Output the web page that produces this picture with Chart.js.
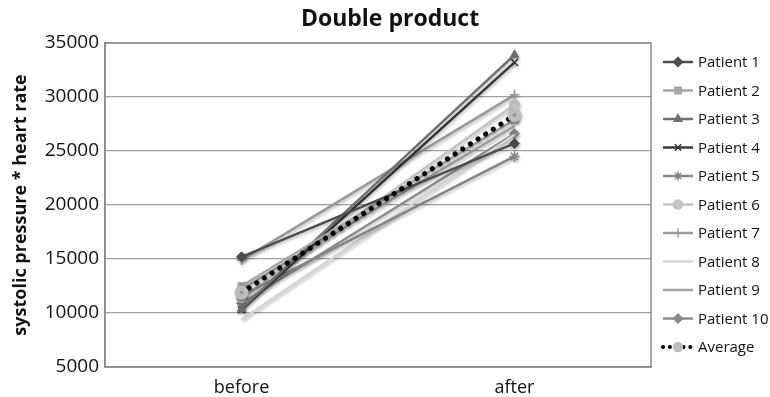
<!DOCTYPE html>
<html>
<head>
<meta charset="utf-8">
<script src="https://cdn.jsdelivr.net/npm/chart.js@4"></script>
<style>
  html, body { margin: 0; padding: 0; background: #fff; }
  #wrap { width: 770px; height: 397px; position: relative; }
</style>
</head>
<body>
<div id="wrap"><canvas id="chart" width="770" height="397"></canvas></div>
<script>
// ── Data ──
const categories = ['before', 'after'];
const patientNames = ['Patient 1', 'Patient 2', 'Patient 3', 'Patient 4', 'Patient 5',
    'Patient 6', 'Patient 7', 'Patient 8', 'Patient 9', 'Patient 10'];
const beforeValues = [15200, 12500, 10400, 10300, 11600, 11400, 14900, 9400, 12200, 10900];
const afterValues  = [25700, 27900, 33900, 33200, 24500, 29300, 30200, 26500, 27300, 26600];
const averageValues = [11870, 28310];
const yTicks = [5000, 10000, 15000, 20000, 25000, 30000, 35000];
const chartTitle = 'Double product';

// ── Styles ──
const LINE_COLORS = ['#4d4d4d', '#a6a6a6', '#707070', '#3a3a3a', '#858585',
    '#c4c4c4', '#999999', '#d4d4d4', '#a3a3a3', '#8c8c8c'];
const MARKERS = ['rectRot', 'rect', 'triangle', 'crossRot', 'star',
    'circle', 'cross', false, false, 'rectRot'];
const FONT = '"Open Sans", "Liberation Sans", sans-serif';

const datasets = patientNames.map((name, i) => ({
    label: name,
    data: [beforeValues[i], afterValues[i]],
    borderColor: LINE_COLORS[i],
    backgroundColor: LINE_COLORS[i],
    borderWidth: 2.5,
    pointStyle: MARKERS[i] || 'circle',
    pointRadius: MARKERS[i] ? 5 : 0,
    pointBorderWidth: (MARKERS[i] === 'crossRot' || MARKERS[i] === 'star' || MARKERS[i] === 'cross') ? 1.5 : 1,
    order: 1,
}));

datasets.push({
    label: 'Average',
    data: averageValues,
    borderColor: '#000',
    backgroundColor: '#bdbdbd',
    pointBorderColor: '#bdbdbd',
    borderWidth: 5,
    borderDash: [0.1, 9],
    borderCapStyle: 'round',
    pointStyle: 'circle',
    pointRadius: 4.5,
    order: 0,
});

// ── Plot frame, title + legend ──
const framePlugin = {
    id: 'frame',
    beforeDatasetsDraw(chart) {
        const { ctx } = chart;
        ctx.save();
        ctx.shadowColor = 'rgba(0,0,0,0.25)';
        ctx.shadowBlur = 3;
        ctx.shadowOffsetX = 1;
        ctx.shadowOffsetY = 2;
    },
    afterDatasetsDraw(chart) {
        chart.ctx.restore();
    },
    afterDraw(chart) {
        const { ctx, chartArea: a } = chart;
        ctx.save();
        ctx.strokeStyle = '#8a8a8a';
        ctx.lineWidth = 1.5;
        ctx.strokeRect(a.left, a.top, a.right - a.left, a.bottom - a.top);

        // title, centred on the page
        ctx.fillStyle = '#111';
        ctx.font = 'bold 23px ' + FONT;
        ctx.textAlign = 'center';
        ctx.textBaseline = 'middle';
        ctx.fillText(chartTitle, 390, 19);

        // legend
        ctx.textAlign = 'left';
        const x0 = a.right + 10;
        const y0 = 62;
        const step = 28.5;
        ctx.font = '15px ' + FONT;
        chart.data.datasets.forEach((ds, i) => {
            const y = y0 + i * step;
            ctx.save();
            ctx.strokeStyle = ds.borderColor;
            ctx.lineWidth = ds.label === 'Average' ? 4 : 2.5;
            if (ds.borderDash) {
                ctx.setLineDash(ds.borderDash.map(v => v * 0.75));
                ctx.lineCap = 'round';
            }
            ctx.beginPath();
            ctx.moveTo(x0 + 2, y);
            ctx.lineTo(x0 + 32, y);
            ctx.stroke();
            ctx.restore();
            if (ds.pointRadius > 0) {
                ctx.fillStyle = ds.backgroundColor;
                ctx.strokeStyle = ds.pointBorderColor || ds.borderColor;
                ctx.lineWidth = 1.5;
                Chart.helpers.drawPoint(ctx, {
                    pointStyle: ds.pointStyle,
                    radius: 4.5,
                    borderWidth: 1.5,
                    rotation: 0,
                }, x0 + 17, y);
            }
            ctx.fillStyle = '#111';
            ctx.fillText(ds.label, x0 + 37, y + 1);
        });
        ctx.restore();
    },
};

new Chart(document.getElementById('chart').getContext('2d'), {
    type: 'line',
    data: { labels: categories, datasets },
    plugins: [framePlugin],
    options: {
        responsive: false,
        animation: false,
        layout: { padding: { top: 43, right: 119, left: 0, bottom: 0 } },
        plugins: {
            legend: { display: false },
            tooltip: { enabled: false },
            title: { display: false },
        },
        scales: {
            x: {
                offset: true,
                grid: { display: false },
                border: { color: '#8a8a8a', width: 1.5 },
                ticks: { color: '#111', font: { family: FONT, size: 18 }, padding: 2 },
                afterFit(scale) { scale.height = 30; },
            },
            y: {
                min: 5000,
                max: 35000,
                afterBuildTicks(scale) { scale.ticks = yTicks.map(v => ({ value: v })); },
                grid: { color: '#a0a0a0', lineWidth: 1.2, drawTicks: false },
                border: { color: '#8a8a8a', width: 1.5 },
                ticks: {
                    color: '#111',
                    font: { family: FONT, size: 19 },
                    padding: 6,
                    callback: v => String(v),
                },
                title: {
                    display: true,
                    text: 'systolic pressure * heart rate',
                    color: '#111',
                    font: { family: FONT, size: 18, weight: 'bold' },
                    padding: { top: 10, bottom: 2 },
                },
                afterFit(scale) { scale.width = 105; },
            },
        },
    },
});
</script>
</body>
</html>
